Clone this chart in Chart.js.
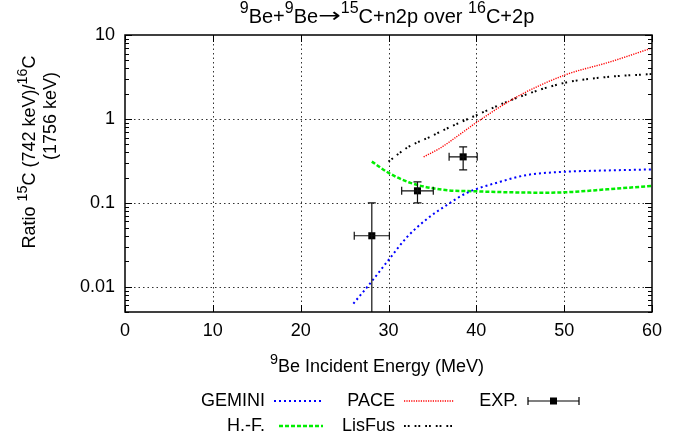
<!DOCTYPE html>
<html><head><meta charset="utf-8">
<script src="https://cdn.jsdelivr.net/npm/chart.js@4/dist/chart.umd.min.js"></script>
<style>html,body{margin:0;padding:0;background:#fff}#wrap{width:682px;height:441px}</style>
</head><body><div id="wrap"><canvas id="c" width="682" height="441"></canvas></div>
<script>
const FAM = '"Liberation Sans", Arial, sans-serif';
// ---- tick labels ----
const xTicks = [0, 10, 20, 30, 40, 50, 60];
const yTicks = [0.01, 0.1, 1, 10];
const yTickLabels = ['0.01', '0.1', '1', '10'];
// ---- series (energy MeV, ratio) ----
const geminiE = [26.0, 27.7, 30.2, 32.1, 34.4, 36.7, 38.9, 42.7, 45.8, 49.9, 54.1, 60.0];
const geminiR = [0.0063, 0.0103, 0.0221, 0.039, 0.0645, 0.095, 0.131, 0.178, 0.215, 0.234, 0.242, 0.250];
const hfE = [28.1, 30.0, 32.5, 36.2, 40.1, 44.6, 48.0, 51.0, 54.9, 60.0];
const hfR = [0.31, 0.228, 0.173, 0.143, 0.137, 0.133, 0.132, 0.135, 0.145, 0.159];
const paceE = [34.0, 35.9, 38.0, 40.1, 44.6, 50.1, 55.2, 60.0];
const paceR = [0.353, 0.45, 0.64, 0.92, 1.83, 3.34, 4.77, 7.0];
const lisE = [30.0, 32.2, 34.7, 37.0, 39.6, 44.6, 50.1, 54.9, 60.0];
const lisR = [0.31, 0.46, 0.61, 0.80, 1.06, 1.78, 2.7, 3.16, 3.43];
const expE = [28.1, 33.3, 38.5];
const expR = [0.0405, 0.139, 0.353];
const expELow = [26.1, 31.5, 36.9];
const expEHigh = [30.1, 35.1, 40.1];
const expRLow = [0, 0.1, 0.247];
const expRHigh = [0.1, 0.178, 0.464];

const pts = (xs, ys) => xs.map((x, i) => ({x, y: ys[i]}));
const curve = (label, xs, ys, color, width, dash) => ({
  label, data: pts(xs, ys), showLine: true, borderColor: color, backgroundColor: color,
  borderWidth: width, borderDash: dash, pointRadius: 0, cubicInterpolationMode: 'monotone', borderCapStyle: 'butt'
});

// part = [text, isSuperscript, fontFamilyOverride, horizontalScale]
function partFont(p, size) {
  const s = p[1] ? size * 0.8 : size;
  return s + 'px ' + (p[2] || FAM);
}
function drawRich(ctx, parts, cx, cy, size, rot) {
  ctx.save();
  ctx.translate(cx, cy);
  if (rot) ctx.rotate(rot);
  let w = 0;
  for (const p of parts) { ctx.font = partFont(p, size); w += ctx.measureText(p[0]).width * (p[3] || 1); }
  let x = -w / 2;
  ctx.textBaseline = 'middle'; ctx.textAlign = 'left'; ctx.fillStyle = '#000';
  for (const p of parts) {
    ctx.font = partFont(p, size);
    const hs = p[3] || 1;
    ctx.save();
    ctx.translate(x, p[1] ? -size * 0.4 : 0);
    ctx.scale(hs, 1);
    ctx.fillText(p[0], 0, 0);
    ctx.restore();
    x += ctx.measureText(p[0]).width * hs;
  }
  ctx.restore();
}

const decor = {
  id: 'decor',
  beforeDatasetsDraw(chart) {
    const {ctx, chartArea: a, scales: {x, y}} = chart;
    ctx.save();
    ctx.strokeStyle = '#333'; ctx.lineWidth = 1; ctx.setLineDash([1.5, 3]);
    ctx.beginPath();
    for (const v of xTicks) {
      if (v <= x.min || v >= x.max) continue;
      const p = Math.round(x.getPixelForValue(v)) + 0.5;
      ctx.moveTo(p, a.top); ctx.lineTo(p, a.bottom);
    }
    for (const v of yTicks) {
      if (v <= y.min || v >= y.max) continue;
      const p = Math.round(y.getPixelForValue(v)) + 0.5;
      ctx.moveTo(a.left, p); ctx.lineTo(a.right, p);
    }
    ctx.stroke();
    ctx.restore();
  },
  afterDatasetsDraw(chart) {
    const {ctx, chartArea: a, scales: {x, y}} = chart;
    ctx.save();
    ctx.beginPath(); ctx.rect(a.left, a.top, a.right - a.left, a.bottom - a.top); ctx.clip();
    ctx.strokeStyle = '#111'; ctx.lineWidth = 1.2; ctx.setLineDash([]);
    ctx.beginPath();
    for (let i = 0; i < expE.length; i++) {
      const px = x.getPixelForValue(expE[i]), py = y.getPixelForValue(expR[i]);
      const xl = x.getPixelForValue(expELow[i]), xh = x.getPixelForValue(expEHigh[i]);
      const yl = y.getPixelForValue(expRLow[i]), yh = y.getPixelForValue(expRHigh[i]);
      ctx.moveTo(xl, py); ctx.lineTo(xh, py);
      ctx.moveTo(xl, py - 4); ctx.lineTo(xl, py + 4);
      ctx.moveTo(xh, py - 4); ctx.lineTo(xh, py + 4);
      ctx.moveTo(px, yl); ctx.lineTo(px, yh);
      ctx.moveTo(px - 4, yh); ctx.lineTo(px + 4, yh);
      if (expRLow[i] > 0) { ctx.moveTo(px - 4, yl); ctx.lineTo(px + 4, yl); }
    }
    ctx.stroke();
    ctx.restore();
  },
  afterDraw(chart) {
    const {ctx, chartArea: a, scales: {x, y}} = chart;
    ctx.save();
    ctx.strokeStyle = '#000'; ctx.lineWidth = 1.5; ctx.setLineDash([]);
    ctx.strokeRect(a.left, a.top, a.right - a.left, a.bottom - a.top);
    ctx.lineWidth = 1;
    ctx.beginPath();
    for (const v of xTicks) {
      const p = Math.round(x.getPixelForValue(v)) + 0.5;
      ctx.moveTo(p, a.bottom); ctx.lineTo(p, a.bottom - 7);
      ctx.moveTo(p, a.top); ctx.lineTo(p, a.top + 7);
    }
    for (let e = -3; e <= 1; e++) {
      for (let m = 1; m <= 9; m++) {
        const v = m * Math.pow(10, e);
        if (v < y.min * 0.999 || v > y.max * 1.001) continue;
        const p = Math.round(y.getPixelForValue(v)) + 0.5;
        const len = m === 1 ? 7 : 4;
        ctx.moveTo(a.left, p); ctx.lineTo(a.left + len, p);
        ctx.moveTo(a.right, p); ctx.lineTo(a.right - len, p);
      }
    }
    ctx.stroke();
    drawRich(ctx, [['9', 1], ['Be+'], ['9', 1], ['Be'], ['\u2192', 0, '"DejaVu Sans", sans-serif', 1.35], ['15', 1], ['C+n2p over '], ['16', 1], ['C+2p']], 387, 17, 20, 0);
    drawRich(ctx, [['9', 1], ['Be Incident Energy (MeV)']], 377, 367, 18, 0);
    drawRich(ctx, [['Ratio '], ['15', 1], ['C (742 keV)/'], ['16', 1], ['C']], 30, 152, 18, -Math.PI / 2);
    drawRich(ctx, [['(1756 keV)']], 51, 116, 18, -Math.PI / 2);
    const ds = chart.data.datasets;
    const items = [
      {i: 0, tx: 265, x1: 274, x2: 323, y: 401},
      {i: 1, tx: 395, x1: 404, x2: 454, y: 401},
      {i: 4, tx: 518, x1: 528, x2: 579, y: 401},
      {i: 2, tx: 265, x1: 279, x2: 323, y: 426},
      {i: 3, tx: 395, x1: 404, x2: 454, y: 426}
    ];
    ctx.font = '18px ' + FAM; ctx.textAlign = 'right'; ctx.textBaseline = 'middle'; ctx.fillStyle = '#000';
    for (const it of items) {
      const d = ds[it.i];
      ctx.fillText(d.label, it.tx, it.y);
      ctx.beginPath();
      if (it.i === 4) {
        ctx.strokeStyle = '#000'; ctx.lineWidth = 1.2; ctx.setLineDash([]);
        ctx.moveTo(it.x1, it.y); ctx.lineTo(it.x2, it.y);
        ctx.moveTo(it.x1, it.y - 4); ctx.lineTo(it.x1, it.y + 4);
        ctx.moveTo(it.x2, it.y - 4); ctx.lineTo(it.x2, it.y + 4);
        ctx.stroke();
        const cx = (it.x1 + it.x2) / 2;
        ctx.fillRect(cx - 3.5, it.y - 3.5, 7, 7);
      } else {
        ctx.strokeStyle = d.borderColor; ctx.lineWidth = d.borderWidth; ctx.setLineDash(d.borderDash);
        ctx.moveTo(it.x1, it.y); ctx.lineTo(it.x2, it.y); ctx.stroke();
      }
    }
    ctx.restore();
  }
};

new Chart(document.getElementById('c'), {
  type: 'scatter',
  data: {
    datasets: [
      curve('GEMINI', geminiE, geminiR, '#0000ff', 2, [2, 3]),
      curve('PACE', paceE, paceR, '#ff0000', 1.4, [1.2, 1.2]),
      curve('H.-F.', hfE, hfR, '#00ee00', 2.5, [4, 2]),
      curve('LisFus', lisE, lisR, '#000000', 2, [1.8, 2, 1.8, 5]),
      {label: 'EXP.', data: pts(expE, expR), showLine: false, pointStyle: 'rect', pointRadius: 5,
       pointBorderWidth: 0, backgroundColor: '#000', borderColor: '#000'}
    ]
  },
  options: {
    responsive: false, animation: false, devicePixelRatio: 1,
    layout: {padding: {top: 35, right: 30, left: 0, bottom: 0}},
    plugins: {legend: {display: false}, title: {display: false}, tooltip: {enabled: false}},
    scales: {
      x: {
        type: 'linear', min: 0, max: 60,
        afterFit: s => { s.height = 129; },
        afterBuildTicks: s => { s.ticks = xTicks.map(v => ({value: v})); },
        ticks: {font: {family: FAM, size: 18}, color: '#000', padding: 8, maxRotation: 0, autoSkip: false,
                callback: v => String(v)},
        grid: {display: false, drawTicks: false}, border: {display: false}
      },
      y: {
        type: 'logarithmic', min: 0.005, max: 10,
        afterFit: s => { s.width = 125; },
        afterBuildTicks: s => { s.ticks = yTicks.map(v => ({value: v})); },
        ticks: {font: {family: FAM, size: 18}, color: '#000', padding: 10, autoSkip: false,
                callback: v => { const k = yTicks.indexOf(v); return k >= 0 ? yTickLabels[k] : ''; }},
        grid: {display: false, drawTicks: false}, border: {display: false}
      }
    }
  },
  plugins: [decor]
});
</script>
</body></html>
